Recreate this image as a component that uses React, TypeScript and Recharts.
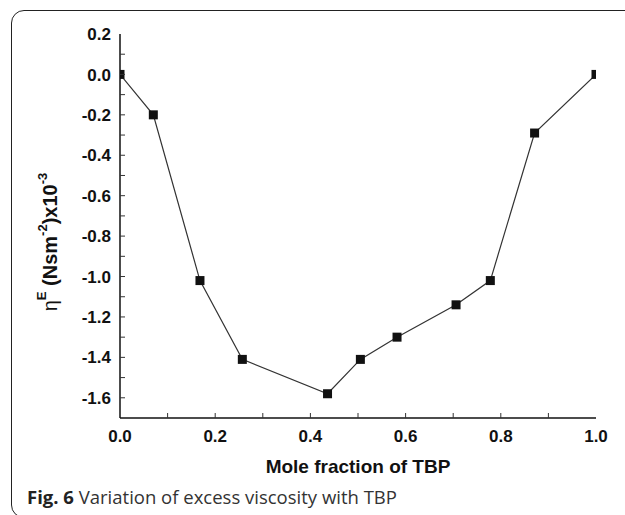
import { LineChart, Line, XAxis, YAxis, Label } from 'recharts';

const moleFraction = [0, 0.07, 0.168, 0.257, 0.436, 0.505, 0.582, 0.706, 0.778, 0.871, 1.0];
const excessViscosity = [0, -0.2, -1.02, -1.41, -1.58, -1.41, -1.3, -1.14, -1.02, -0.29, 0];

const xTicks = [0, 0.1, 0.2, 0.3, 0.4, 0.5, 0.6, 0.7, 0.8, 0.9, 1.0];
const yTicks = [0.2, 0.1, 0, -0.1, -0.2, -0.3, -0.4, -0.5, -0.6, -0.7, -0.8, -0.9, -1.0, -1.1, -1.2, -1.3, -1.4, -1.5, -1.6, -1.7];

const data = moleFraction.map((x, i) => ({ x, eta: excessViscosity[i] }));

const tickFont = 'Liberation Sans, Arial, sans-serif';
const X_MARGIN = 12;
const Y_MARGIN = 9;
const TICK_LEN = 5;

// only every second tick carries a label (the others are minor ticks)
const isMajor = (v: number) => Math.abs(Math.round(v * 10)) % 2 === 0;

// tick marks point inwards, so they are drawn here instead of by tickLine
const XTick = (props: any) => {
  const { x, y, payload } = props;
  const axisY = y - X_MARGIN;
  const showLabel = isMajor(payload.value);
  return (
    <g>
      {payload.value > 0.001 && payload.value < 0.999 && (
        <line x1={x} x2={x} y1={axisY} y2={axisY - TICK_LEN} stroke="#333" strokeWidth={1} />
      )}
      {showLabel && (
        <text x={x} y={y} dy="0.71em" textAnchor="middle" fontFamily={tickFont} fontWeight="bold" fontSize={17} fill="#111">
          {payload.value.toFixed(1)}
        </text>
      )}
    </g>
  );
};

const YTick = (props: any) => {
  const { x, y, payload } = props;
  const axisX = x + Y_MARGIN;
  const showLabel = isMajor(payload.value) && payload.value > -1.65;
  return (
    <g>
      {payload.value < 0.19 && payload.value > -1.69 && (
        <line x1={axisX} x2={axisX + TICK_LEN} y1={y} y2={y} stroke="#333" strokeWidth={1} />
      )}
      {showLabel && (
        <text x={x} y={y} dy="0.36em" textAnchor="end" fontFamily={tickFont} fontWeight="bold" fontSize={17} fill="#111">
          {payload.value.toFixed(1)}
        </text>
      )}
    </g>
  );
};

const SquareDot = (props: any) => {
  const { cx, cy, index } = props;
  if (cx == null || cy == null) return <g key={index} />;
  return <rect key={index} x={cx - 4.5} y={cy - 4.5} width={9} height={9} fill="#111" />;
};

const YTitle = (props: any) => {
  const vb = props.viewBox || { y: 34, height: 384 };
  const cx = 57;
  const cy = vb.y + vb.height / 2 + 16;
  return (
    <text
      x={cx}
      y={cy}
      transform={`rotate(-90, ${cx}, ${cy})`}
      textAnchor="middle"
      fontFamily={tickFont}
      fontSize={20}
      fill="#111"
    >
      <tspan>η</tspan>
      <tspan fontWeight="bold" fontSize={13} dy={-11}>E</tspan>
      <tspan fontWeight="bold" dy={11}> (Nsm</tspan>
      <tspan fontWeight="bold" fontSize={13} dy={-10}>-2</tspan>
      <tspan fontWeight="bold" dy={10}>)x10</tspan>
      <tspan fontWeight="bold" fontSize={13} dy={-10}>-3</tspan>
    </text>
  );
};

const XTitle = (props: any) => {
  const vb = props.viewBox || { x: 120, y: 418, width: 476 };
  return (
    <text
      x={vb.x + vb.width / 2}
      y={vb.y + 55}
      textAnchor="middle"
      fontFamily={tickFont}
      fontWeight="bold"
      fontSize={19}
      fill="#111"
    >
      Mole fraction of TBP
    </text>
  );
};

export default function App() {
  return (
    <div style={{ position: 'absolute', left: 0, top: 0, width: 625, height: 515, overflow: 'hidden', background: '#fff' }}>
      <div
        style={{
          position: 'absolute',
          left: 11,
          top: 10,
          width: 660,
          height: 506,
          border: '1.5px solid #222',
          borderRadius: 13,
        }}
      />
      <div style={{ position: 'absolute', left: 0, top: 0 }}>
        <LineChart width={625} height={515} data={data} margin={{ top: 34, right: 29, bottom: 47, left: 50 }}>
          <XAxis
            dataKey="x"
            type="number"
            domain={[0, 1]}
            ticks={xTicks}
            interval={0}
            tick={<XTick />}
            tickSize={0}
            tickMargin={X_MARGIN}
            tickLine={false}
            axisLine={{ stroke: '#111', strokeWidth: 1.5 }}
            height={50}
            allowDataOverflow
          >
            <Label content={<XTitle />} />
          </XAxis>
          <XAxis xAxisId="top" orientation="top" dataKey="x" type="number" domain={[0, 1]} height={0} tick={false} tickLine={false} axisLine={{ stroke: '#555', strokeWidth: 1.2 }} />
          <YAxis
            type="number"
            domain={[-1.7, 0.2]}
            ticks={yTicks}
            interval={0}
            tick={<YTick />}
            tickSize={0}
            tickMargin={Y_MARGIN}
            tickLine={false}
            axisLine={{ stroke: '#111', strokeWidth: 1.5 }}
            width={70}
            allowDataOverflow
          >
            <Label content={<YTitle />} />
          </YAxis>
          <YAxis yAxisId="right" orientation="right" type="number" domain={[-1.7, 0.2]} width={0} tick={false} tickLine={false} axisLine={{ stroke: '#111', strokeWidth: 1.5 }} />
          <Line
            type="linear"
            dataKey="eta"
            stroke="#333"
            strokeWidth={1.2}
            dot={<SquareDot />}
            activeDot={false}
            isAnimationActive={false}
          />
        </LineChart>
      </div>
      <div
        style={{
          position: 'absolute',
          left: 27,
          top: 484,
          fontFamily: '"Open Sans", sans-serif',
          fontSize: 18.5,
          color: '#333',
          whiteSpace: 'nowrap',
        }}
      >
        <b style={{ color: '#222' }}>Fig. 6</b> Variation of excess viscosity with TBP
      </div>
    </div>
  );
}
